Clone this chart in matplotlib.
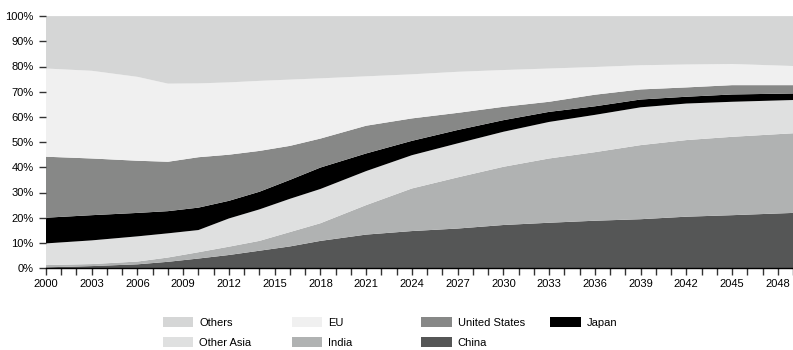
import matplotlib.pyplot as plt
from matplotlib.patches import Patch
import numpy as np

plt.rcParams['font.family'] = ['Liberation Sans', 'DejaVu Sans']

years = [2000, 2003, 2006, 2008, 2010, 2012, 2014, 2016, 2018, 2021,
         2024, 2027, 2030, 2033, 2036, 2039, 2042, 2045, 2049]

# shares in % (stacked bottom -> top)
china      = [0.3, 0.8, 1.5, 2.5, 3.8, 5.2, 6.9, 8.6, 10.8, 13.3, 14.7, 15.7, 17.1, 18.0, 18.8, 19.4, 20.4, 21.0, 21.9]
india      = [0.9, 0.8, 1.1, 1.7, 2.5, 3.3, 3.9, 5.7, 7.0, 11.7, 16.9, 20.3, 23.1, 25.5, 27.2, 29.4, 30.4, 31.1, 31.6]
other_asia = [8.6, 9.4, 10.0, 9.6, 8.8, 11.2, 12.5, 13.2, 13.6, 13.5, 13.2, 13.5, 13.9, 14.5, 14.8, 15.0, 14.5, 13.9, 13.2]
japan      = [10.2, 10.0, 9.3, 8.8, 8.9, 7.0, 7.0, 7.5, 8.5, 7.0, 5.7, 5.3, 4.6, 4.0, 3.4, 3.1, 2.7, 2.9, 2.6]
us         = [24.2, 22.5, 20.7, 19.6, 20.0, 18.3, 16.2, 13.5, 11.5, 11.0, 8.9, 6.8, 5.3, 4.0, 4.6, 4.0, 3.7, 3.7, 3.3]
eu         = [35.0, 34.8, 33.3, 31.0, 29.3, 28.7, 27.8, 26.3, 23.9, 19.6, 17.5, 16.3, 14.6, 13.2, 11.0, 9.6, 9.1, 8.4, 7.6]
others     = [20.8, 21.7, 24.1, 26.8, 26.7, 26.3, 25.7, 25.2, 24.7, 23.9, 23.1, 22.1, 21.4, 20.8, 20.2, 19.5, 19.2, 19.0, 19.8]

labels = ['China', 'India', 'Other Asia', 'Japan', 'United States', 'EU', 'Others']
colors = ['#555656', '#b0b2b2', '#dfe0e0', '#000000', '#878887', '#f0f0f0', '#d5d6d6']

fig = plt.figure(figsize=(7.93, 3.5), dpi=100)
ax = fig.add_axes([0.058, 0.234, 0.942, 0.72])

ax.stackplot(years, china, india, other_asia, japan, us, eu, others,
             colors=colors, linewidth=0)

ax.set_xlim(2000, 2049)
ax.set_ylim(0, 100)
ax.set_yticks(np.arange(0, 101, 10))
ax.set_yticklabels([f'{v}%' for v in range(0, 101, 10)])
ax.set_xticks(np.arange(2000, 2049, 3))
ax.set_xticks(np.arange(2000, 2050, 1), minor=True)
ax.tick_params(axis='both', labelsize=8, length=5, width=1, color='#333333', pad=3)
ax.tick_params(axis='x', which='minor', length=5, width=1, color='#333333')
ax.tick_params(axis='y', pad=4)
for s in ['top', 'right', 'left']:
    ax.spines[s].set_visible(False)
ax.spines['bottom'].set_linewidth(1)

# legend: four columns, placed separately
cols = [[('Others', colors[6]), ('Other Asia', colors[2])],
        [('EU', colors[5]), ('India', colors[1])],
        [('United States', colors[4]), ('China', colors[0])],
        [('Japan', colors[3])]]
xs = [0.205, 0.368, 0.531, 0.694]
for x, col in zip(xs, cols):
    handles = [Patch(facecolor=c, edgecolor='none') for _, c in col]
    fig.legend(handles, [n for n, _ in col], loc='upper left',
               bbox_to_anchor=(x, 0.093), frameon=False, fontsize=8,
               borderpad=0, handlelength=2.75, handleheight=1.0,
               handletextpad=0.55, labelspacing=0.8, borderaxespad=0)

fig.savefig('out.png', dpi=100)
